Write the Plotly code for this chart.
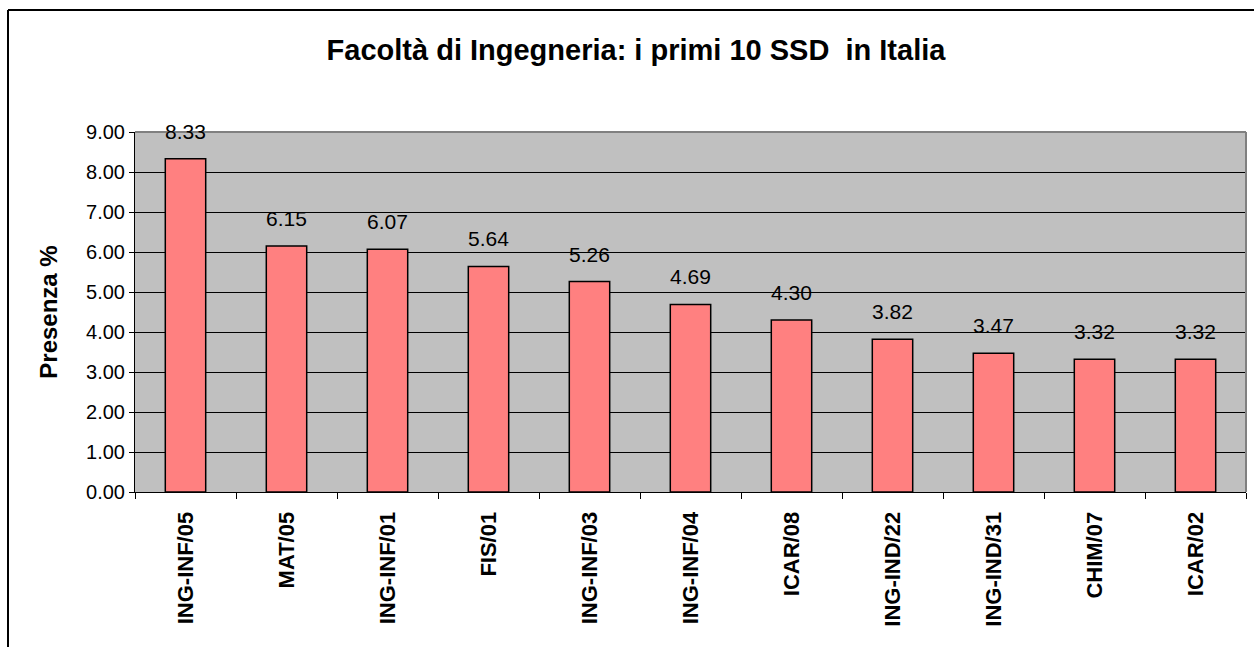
import plotly.graph_objects as go

categories = ["ING-INF/05", "MAT/05", "ING-INF/01", "FIS/01", "ING-INF/03",
              "ING-INF/04", "ICAR/08", "ING-IND/22", "ING-IND/31", "CHIM/07", "ICAR/02"]
values = [8.33, 6.15, 6.07, 5.64, 5.26, 4.69, 4.30, 3.82, 3.47, 3.32, 3.32]
y_ticks = [0, 1, 2, 3, 4, 5, 6, 7, 8, 9]

FONT = "Arial, Liberation Sans, sans-serif"

fig = go.Figure()
fig.add_trace(go.Bar(
    x=categories, y=values,
    marker=dict(color="#FF8080", line=dict(color="black", width=1.5)),
    width=0.4,
    hoverinfo="x+y",
))

for c, v in zip(categories, values):
    fig.add_annotation(x=c, y=v, text=f"{v:.2f}", showarrow=False,
                       yanchor="bottom", yshift=14,
                       font=dict(family=FONT, size=21, color="black"))

fig.update_layout(
    width=1254, height=647,
    margin=dict(l=135, r=8, t=132, b=155),
    paper_bgcolor="white", plot_bgcolor="#C0C0C0",
    showlegend=False,
    title=dict(text="<b>Facoltà di Ingegneria: i primi 10 SSD  in Italia</b>",
               x=636 / 1254, xanchor="center", xref="container",
               y=1 - 50 / 647, yanchor="middle", yref="container",
               font=dict(family=FONT, size=29, color="black")),
    font=dict(family=FONT, color="black"),
)

fig.update_xaxes(
    type="category", tickangle=-90, tickson="boundaries",
    ticks="outside", ticklen=6, tickcolor="black",
    showline=True, linecolor="black", linewidth=1,
    tickfont=dict(family=FONT, size=22, color="black"),
    ticklabelstandoff=10,
    tickprefix="<b>", ticksuffix="</b>",
    showgrid=False,
)
fig.update_yaxes(
    range=[0, 9], tickvals=y_ticks, tickformat=".2f",
    ticks="outside", ticklen=5, tickcolor="black",
    showline=True, linecolor="black", linewidth=1,
    showgrid=True, gridcolor="black", gridwidth=1,
    tickfont=dict(family=FONT, size=20, color="black"),
    zeroline=False,
    title=dict(text="<b>Presenza %</b>", font=dict(family=FONT, size=24, color="black"),
               standoff=21),
)

# plot-area top/right border (gray)
fig.add_shape(type="line", xref="paper", yref="paper", x0=0, x1=1, y0=1, y1=1,
              line=dict(color="#808080", width=2))
fig.add_shape(type="line", xref="paper", yref="paper", x0=1, x1=1, y0=0, y1=1,
              line=dict(color="#808080", width=2))

# outer chart border (top and left visible)
x_l = -(135 - 8) / (1254 - 135 - 8)
y_t = 1 + (132 - 10) / (647 - 132 - 155)
fig.add_shape(type="line", xref="paper", yref="paper", x0=x_l, x1=1.02, y0=y_t, y1=y_t,
              line=dict(color="black", width=2))
fig.add_shape(type="line", xref="paper", yref="paper", x0=x_l, x1=x_l, y0=-0.5, y1=y_t,
              line=dict(color="black", width=2))

fig.write_html("out.html", config={"displayModeBar": False},
               post_script="document.body.style.margin='0px';document.body.style.overflow='hidden';")
